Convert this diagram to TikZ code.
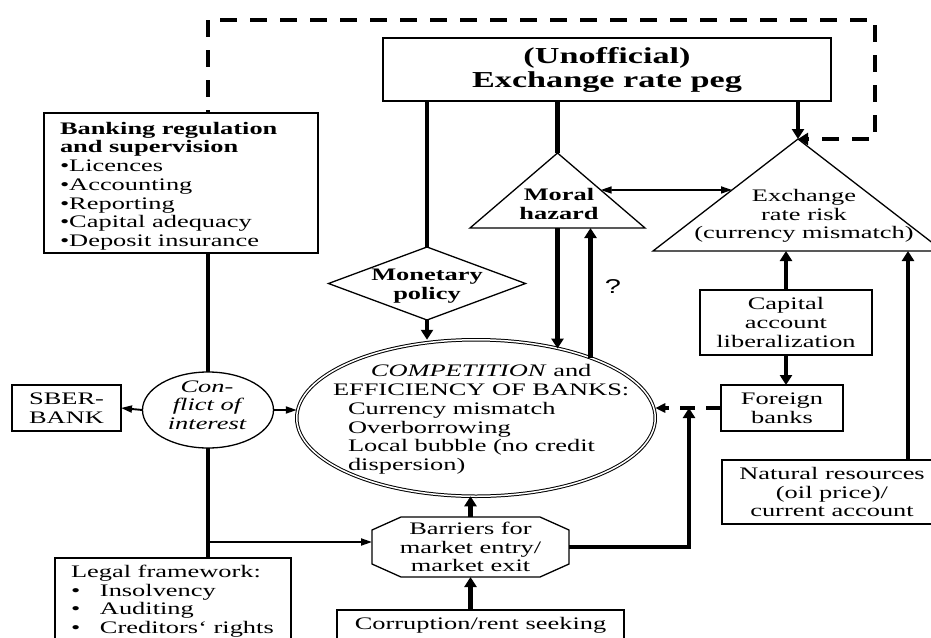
\documentclass[tikz,border=0pt]{standalone}
\usepackage{fontspec}
\setmainfont{Liberation Serif}[FakeStretch=1.5]
\newfontfamily\qfont{Liberation Sans}[FakeStretch=1.45]
\usetikzlibrary{arrows.meta,shapes.geometric,calc}
\begin{document}
\begin{tikzpicture}[x=1pt,y=-1pt,
  every node/.append style={font=\fontsize{17.6}{18.7}\selectfont, inner sep=0pt, outer sep=0pt},
  box/.style={draw, line width=1.3pt, align=center},
  thk/.style={line width=4.2pt},
  thkarr/.style={thk,-{Triangle[width=12pt,length=10pt]}},
  thn/.style={line width=1.9pt,-{Triangle[width=7pt,length=11pt]}},
  dsh/.style={line width=4pt,dash pattern=on 17pt off 13pt},
  dshb/.style={line width=4pt,dash pattern=on 15pt off 11pt,-{Triangle[width=9pt,length=10pt]}}]
\clip (0,0) rectangle (931,637);
% boxes
\node[box,minimum width=448,minimum height=63,font=\fontsize{22.8}{24}\selectfont\bfseries] (peg) at (607,69.5) {(Unofficial)\\Exchange rate peg};
\node[box,minimum width=274,minimum height=140] (bank) at (181,183) {};
\node[anchor=north west,align=left] (banktext) at (60,122) {\textbf{Banking regulation}\\\textbf{and supervision}\\\textbullet Licences\\\textbullet Accounting\\\textbullet Reporting\\\textbullet Capital adequacy\\\textbullet Deposit insurance};
\node[box,minimum width=109,minimum height=46] (sber) at (66.5,408) {SBER-\\BANK};
\node[box,minimum width=236,minimum height=92] (legal) at (173,604) {};
\node[anchor=north west,align=left] (legaltext) at (71,565) {Legal framework:\\\makebox[29pt][l]{\textbullet}Insolvency\\\makebox[29pt][l]{\textbullet}Auditing\\\makebox[29pt][l]{\textbullet}Creditors‘ rights};
\node[box,minimum width=172,minimum height=65] (cap) at (786,322.5) {Capital\\account\\liberalization};
\node[box,minimum width=122,minimum height=46] (fb) at (782,408) {Foreign\\banks};
\node[box,minimum width=220,minimum height=64] (nat) at (832,492) {Natural resources\\(oil price)/\\current account};
\node[box,minimum width=287,minimum height=30] (corr) at (480.5,625) {Corruption/rent seeking};
% monetary diamond
\node[diamond,draw,line width=1.3pt,minimum width=197,minimum height=73] (mon) at (427,283.5) {};
\node[align=center,font=\fontsize{17.6}{18.7}\selectfont\bfseries] (montext) at (427,286) {Monetary\\policy};
% triangles
\node[minimum width=175,minimum height=75] (mh) at (557.5,190.5) {};
\draw[line width=1.3pt] (mh.south west) -- (mh.north) -- (mh.south east) -- cycle;
\node[align=center,font=\fontsize{17.6}{18.7}\selectfont\bfseries] (mhtext) at (559,204) {Moral\\hazard};
\node[minimum width=290,minimum height=112] (er) at (798,195) {};
\draw[line width=1.3pt] (er.south west) -- (er.north) -- (er.south east) -- cycle;
\node[align=center] (ertext) at (804,216) {Exchange\\rate risk\\(currency mismatch)};
% conflict
\node[ellipse,draw,line width=1.3pt,minimum width=131,minimum height=76] (conf) at (208,410) {};
\node[align=center,font=\fontsize{17.6}{18.7}\selectfont\itshape] (conftext) at (207,405) {Con-\\flict of\\interest};
% competition
\node[ellipse,draw,double,double distance=1.5pt,line width=1pt,minimum width=358.5,minimum height=156.5] (comp) at (476,418) {};
\node[anchor=west] (comptext) at (333,420) {\begin{tabular}{@{}l@{}}\multicolumn{1}{@{}c@{}}{\textit{COMPETITION} and}\\EFFICIENCY OF BANKS:\\\hspace*{15pt}Currency mismatch\\\hspace*{15pt}Overborrowing\\\hspace*{15pt}Local bubble (no credit\\\hspace*{15pt}dispersion)\end{tabular}};
% barriers octagon
\node[align=center,minimum width=197,minimum height=60] (bar) at (470.5,547) {Barriers for\\market entry/\\market exit};
\draw[line width=1.3pt] ($(bar.north west)+(29,0)$) -- ($(bar.north east)+(-29,0)$) -- ($(bar.north east)+(0,13)$) -- ($(bar.south east)+(0,-13)$) -- ($(bar.south east)+(-29,0)$) -- ($(bar.south west)+(29,0)$) -- ($(bar.south west)+(0,-13)$) -- ($(bar.north west)+(0,13)$) -- cycle;
% question mark
\node[font=\qfont\fontsize{20}{20}\selectfont] (q) at (613,287) {?};
% dashed feedback
\coordinate (dtl) at (208,20);
\coordinate (dtr) at (875,20);
\coordinate (dbr) at (875,139);
\draw[dsh] (dtl) -- (dtl |- bank.north);
\draw[dsh,dash phase=18pt,-{Triangle[width=12pt,length=10pt]}] (dtl) -- (dtr) -- (dbr) -- (er.north);
% peg connectors
\draw[thk] (mon.north |- peg.south) -- (mon.north);
\draw[thk] (mh.north |- peg.south) -- (mh.north);
\draw[thkarr] (er.north |- peg.south) -- (er.north);
\draw[thkarr] (mon.south) -- (mon.south |- comp.north);
\draw[thkarr] (mh.south) -- (mh.south |- comp.40);
\coordinate (mhup) at ($(mh.south)+(33,0)$);
\draw[thkarr] (mhup |- comp.28) -- (mhup);
\coordinate (p1) at ($(mh.north)!0.4933!(mh.south east)$);
\coordinate (p2) at ($(er.north)!0.455!(er.south west)$);
\draw[line width=1.6pt,{Triangle[width=7pt,length=11pt]}-{Triangle[width=7pt,length=11pt]}] (p1) -- (p2);
% conflict connectors
\draw[thk] (conf.north |- bank.south) -- (conf.north);
\draw[thk] (conf.south) -- (conf.south |- legal.north);
\draw[thn] (conf.west) -- (sber.east);
\draw[thn] (conf.east) -- (comp.west |- conf.east);
\coordinate (br) at (208,542);
\draw[thn] (br) -- (br -| bar.west);
% barriers connectors
\draw[thkarr] (bar.north) -- (bar.north |- comp.south);
\draw[thkarr] (bar.south |- corr.north) -- (bar.south);
\coordinate (bk) at (689,547);
\draw[thkarr] (bar.east) -- (bk) -- (bk |- fb.west);
\draw[dshb] (fb.west) -- (comp.east |- fb.west);
% right side
\draw[thkarr] (cap.north) -- (cap.north |- er.south);
\draw[thkarr] (cap.south) -- (cap.south |- fb.north);
\coordinate (nu) at (908,460);
\draw[thkarr] (nu |- nat.north) -- (nu |- er.south);
\end{tikzpicture}
\end{document}
